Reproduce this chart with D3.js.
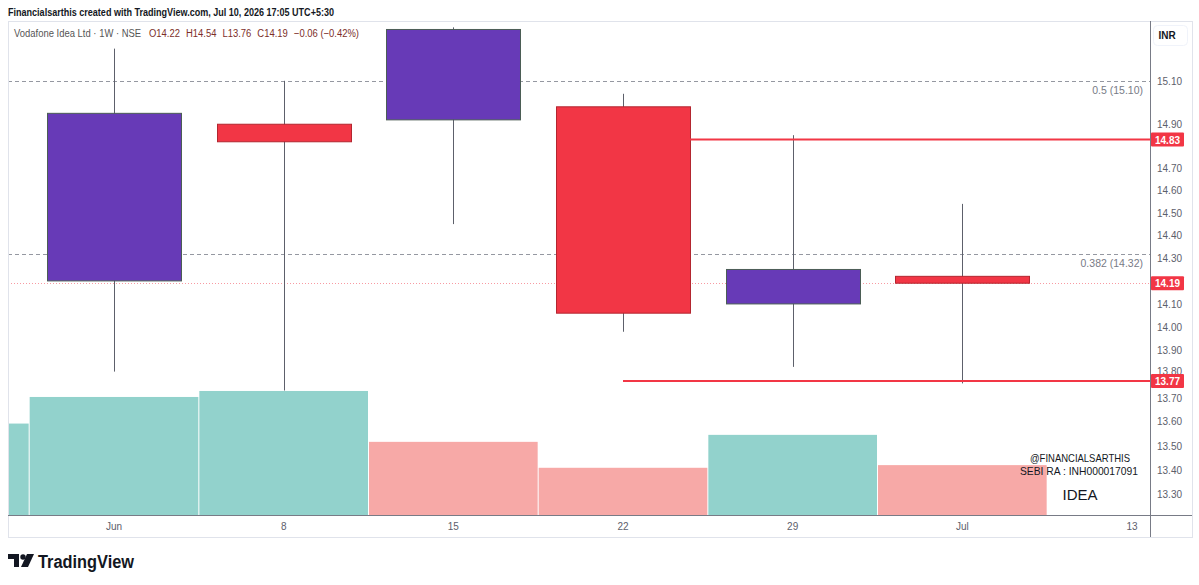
<!DOCTYPE html>
<html>
<head>
<meta charset="utf-8">
<script src="https://cdn.jsdelivr.net/npm/d3@7"></script>
<style>
  body { margin: 0; background: #fff; }
  text { font-family: 'Liberation Sans', Arial, sans-serif; }
</style>
</head>
<body>
<svg id="chart" width="1199" height="585"></svg>
<script>
// weekly candles (Vodafone Idea, NSE, 1W)
const weeks = ['2026-06-01', '2026-06-08', '2026-06-15', '2026-06-22', '2026-06-29', '2026-07-06']
const opens = [14.20, 14.90, 14.92, 14.98, 14.10, 14.22]
const highs = [15.25, 15.10, 15.35, 15.04, 14.85, 14.54]
const lows = [13.81, 13.73, 14.45, 13.98, 13.83, 13.76]
const closes = [14.95, 14.82, 15.34, 14.06, 14.25, 14.19]

// volume (billions), includes the partly visible week before
const volWeeks = ['2026-05-25', '2026-06-01', '2026-06-08', '2026-06-15', '2026-06-22', '2026-06-29', '2026-07-06']
const volumes = [2.75, 3.55, 3.73, 2.20, 1.42, 2.41, 1.50]
const volUp = [true, true, true, false, false, true, false]

// time axis labels
const timeTicks = ['2026-06-01', '2026-06-08', '2026-06-15', '2026-06-22', '2026-06-29', '2026-07-06', '2026-07-13']
const timeLabels = ['Jun', '8', '15', '22', '29', 'Jul', '13']

// price axis labels
const priceTicks = [15.10, 14.90, 14.70, 14.60, 14.50, 14.40, 14.30, 14.10, 14.00, 13.90, 13.80, 13.70, 13.60, 13.50, 13.40, 13.30]

// drawings
const fibLevels = [15.10, 14.32]
const fibNames = ['0.5', '0.382']
const hLines = [14.83, 13.77]
const hLineStart = ['2026-06-22', '2026-06-22']
const lastPrice = 14.19
const prevClose = 14.25

const config = {
  left: 8, right: 1150, top: 21, bottom: 515, axisRight: 1192, axisBottom: 537,
  up: '#673ab7', down: '#f23645', upBorder: '#4b5d55', downBorder: '#b3262f',
  wick: '#5d606b', volUp: '#92d2cc', volDown: '#f7a9a7'
}

const svg = d3.select('#chart')
const parse = d3.utcParse('%Y-%m-%d')

const x = d3.scaleUtc()
  .domain([parse('2026-06-01'), parse('2026-07-13')])
  .range([114, 1132])
const weekW = x(parse('2026-06-08')) - x(parse('2026-06-01'))

const y = d3.scaleLog()
  .domain([13.215, 15.38])
  .range([config.bottom, config.top])

const vol = d3.scaleLinear()
  .domain([0, 4])
  .range([config.bottom, config.bottom - 133])

// header line
svg.append('text')
  .attr('x', 8).attr('y', 16)
  .attr('font-size', 11).attr('font-weight', 600)
  .attr('fill', '#131722')
  .attr('textLength', 326).attr('lengthAdjust', 'spacingAndGlyphs')
  .text('Financialsarthis created with TradingView.com, Jul 10, 2026 17:05 UTC+5:30')

// outer frame
svg.append('rect')
  .attr('x', config.left + 0.5).attr('y', config.top + 0.5)
  .attr('width', config.axisRight - config.left).attr('height', config.axisBottom - config.top)
  .attr('fill', 'none').attr('stroke', '#e0e3eb')

svg.append('clipPath').attr('id', 'plot')
  .append('rect')
  .attr('x', config.left + 1).attr('y', config.top + 1)
  .attr('width', config.right - config.left - 1).attr('height', config.bottom - config.top - 1)

const plot = svg.append('g').attr('clip-path', 'url(#plot)')

// volume bars
plot.selectAll('.vol')
  .data(volumes)
  .enter().append('rect')
  .attr('class', 'vol')
  .attr('x', (d, i) => x(parse(volWeeks[i])) - weekW / 2 + 0.5)
  .attr('width', weekW - 1)
  .attr('y', d => vol(d))
  .attr('height', d => config.bottom - vol(d))
  .attr('fill', (d, i) => volUp[i] ? config.volUp : config.volDown)

// fib levels
fibLevels.forEach(function(v, i) {
  plot.append('line')
    .attr('x1', config.left).attr('x2', config.right)
    .attr('y1', Math.round(y(v)) + 0.5).attr('y2', Math.round(y(v)) + 0.5)
    .attr('stroke', '#9598a1').attr('stroke-dasharray', '4,3')
  plot.append('text')
    .attr('x', 1143).attr('y', y(v) + 13)
    .attr('text-anchor', 'end').attr('font-size', 10.5)
    .attr('fill', '#787b86')
    .text(`${fibNames[i]} (${v.toFixed(2)})`)
})

// last price line
plot.append('line')
  .attr('x1', config.left).attr('x2', config.right)
  .attr('y1', Math.round(y(lastPrice)) + 0.5).attr('y2', Math.round(y(lastPrice)) + 0.5)
  .attr('stroke', '#f23645').attr('stroke-opacity', 0.5).attr('stroke-dasharray', '1,2')

// legend: pieces placed one after another, slightly condensed
const last = weeks.length - 1
const chg = closes[last] - prevClose
const legendParts = [
  ['Vodafone Idea Ltd · 1W · NSE', '#555'],
  ['O' + opens[last].toFixed(2), '#7d2f2a'],
  ['H' + highs[last].toFixed(2), '#7d2f2a'],
  ['L' + lows[last].toFixed(2), '#7d2f2a'],
  ['C' + closes[last].toFixed(2), '#7d2f2a'],
  [`−${Math.abs(chg).toFixed(2)} (−${Math.abs(chg / prevClose * 100).toFixed(2)}%)`, '#7d2f2a']
]
const legend = plot.append('g').attr('transform', 'translate(14,37) scale(0.86,1)')
let lx = 0
legendParts.forEach(function(p, j) {
  let t = legend.append('text')
    .attr('x', lx).attr('y', 0)
    .attr('font-size', 11).attr('fill', p[1])
    .text(p[0])
  lx += t.node().getComputedTextLength() + (j === 0 ? 9 : 7)
})

// candles
const candles = plot.selectAll('.candle')
  .data(weeks)
  .enter().append('g')
  .attr('class', 'candle')

candles.append('line')
  .attr('x1', d => Math.round(x(parse(d))) + 0.5)
  .attr('x2', d => Math.round(x(parse(d))) + 0.5)
  .attr('y1', (d, i) => y(highs[i]))
  .attr('y2', (d, i) => y(lows[i]))
  .attr('stroke', config.wick)

const bodyW = weekW * 0.79
candles.append('rect')
  .attr('x', d => Math.round(x(parse(d)) - bodyW / 2) + 0.5)
  .attr('width', Math.round(bodyW))
  .attr('y', (d, i) => y(Math.max(opens[i], closes[i])))
  .attr('height', (d, i) => Math.max(1, y(Math.min(opens[i], closes[i])) - y(Math.max(opens[i], closes[i]))))
  .attr('fill', (d, i) => closes[i] >= opens[i] ? config.up : config.down)
  .attr('stroke', (d, i) => closes[i] >= opens[i] ? config.upBorder : config.downBorder)

// horizontal rays
hLines.forEach(function(v, i) {
  let start = i === 0 ? x(parse(hLineStart[i])) + bodyW / 2 : x(parse(hLineStart[i]))
  plot.append('line')
    .attr('x1', start).attr('x2', config.right)
    .attr('y1', y(v)).attr('y2', y(v))
    .attr('stroke', '#f23645').attr('stroke-width', 2)
})

// watermark
const wm = svg.append('g').attr('text-anchor', 'middle').attr('fill', '#131722')
wm.append('text').attr('x', 1080).attr('y', 462).attr('font-size', 11)
  .attr('textLength', 100).attr('lengthAdjust', 'spacingAndGlyphs').text('@FINANCIALSARTHIS')
wm.append('text').attr('x', 1079).attr('y', 475).attr('font-size', 11)
  .attr('textLength', 118).attr('lengthAdjust', 'spacingAndGlyphs').text('SEBI RA : INH000017091')
wm.append('text').attr('x', 1080).attr('y', 500).attr('font-size', 15).text('IDEA')

// axes lines
svg.append('line')
  .attr('x1', config.right + 0.5).attr('x2', config.right + 0.5)
  .attr('y1', config.top).attr('y2', config.axisBottom)
  .attr('stroke', '#787b86')
svg.append('line')
  .attr('x1', config.left).attr('x2', config.axisRight)
  .attr('y1', config.bottom + 0.5).attr('y2', config.bottom + 0.5)
  .attr('stroke', '#787b86')

// price axis
svg.append('g').selectAll('text')
  .data(priceTicks)
  .enter().append('text')
  .attr('x', 1157).attr('y', d => y(d) + (d === 13.80 ? 1 : 4))
  .attr('font-size', 10).attr('fill', '#5d606b')
  .text(d => d.toFixed(2))

const tags = hLines.concat([lastPrice])
tags.forEach(function(v) {
  svg.append('rect')
    .attr('x', 1151).attr('y', y(v) - 7)
    .attr('width', 33).attr('height', 14).attr('rx', 1)
    .attr('fill', '#f23645')
  svg.append('text')
    .attr('x', 1167.5).attr('y', y(v) + 4)
    .attr('text-anchor', 'middle').attr('font-size', 10).attr('font-weight', 600)
    .attr('fill', '#fff')
    .text(v.toFixed(2))
})

// currency box
svg.append('rect')
  .attr('x', 1153.5).attr('y', 25.5).attr('width', 34).attr('height', 20).attr('rx', 4)
  .attr('fill', '#fff').attr('stroke', '#f0f3fa')
svg.append('text')
  .attr('x', 1167).attr('y', 39).attr('text-anchor', 'middle')
  .attr('font-size', 10).attr('font-weight', 600).attr('fill', '#131722')
  .text('INR')

// time axis
svg.append('g').selectAll('text')
  .data(timeTicks)
  .enter().append('text')
  .attr('x', d => x(parse(d)))
  .attr('y', 530)
  .attr('text-anchor', 'middle').attr('font-size', 10).attr('fill', '#5d606b')
  .text((d, i) => timeLabels[i])

// TradingView logo
const logo = svg.append('g').attr('fill', '#131722')
logo.append('path').attr('d', 'M8,554 h11 v13 h-5 v-8 h-6 z')
logo.append('circle').attr('cx', 23).attr('cy', 557).attr('r', 2.7)
logo.append('path').attr('d', 'M27,554 h7 l-6,13 h-7 z')
svg.append('text')
  .attr('x', 38).attr('y', 568)
  .attr('font-size', 18).attr('font-weight', 600).attr('fill', '#131722')
  .attr('textLength', 96).attr('lengthAdjust', 'spacingAndGlyphs')
  .text('TradingView')
</script>
</body>
</html>
